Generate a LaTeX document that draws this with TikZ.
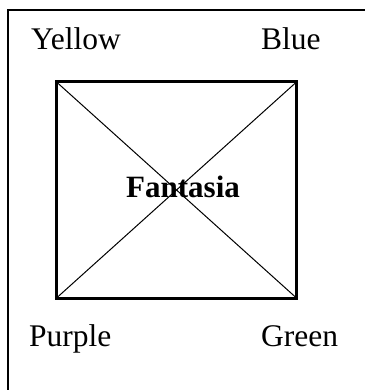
\documentclass[tikz,border=0pt]{standalone}
\usepackage{fontspec}
\setmainfont{Liberation Serif}
\begin{document}
\begin{tikzpicture}[x=1pt, y=-1pt,
    lbl/.style={font=\fontsize{31.5}{38}\selectfont, inner sep=0pt, anchor=base west}]
    \useasboundingbox (0,0) rectangle (365,390);
    % frame
    \draw[line width=1.3pt] (8,390) -- (8,10) -- (365,10);
    % square with diagonals
    \node[draw, line width=3pt, outer sep=0pt, inner sep=0pt,
          minimum width=240pt, minimum height=216pt] (box) at (176.5,190) {};
    \draw[line width=1pt] (box.north west) -- (box.south east);
    \draw[line width=1pt] (box.north east) -- (box.south west);
    \node[lbl, font=\fontsize{31}{38}\selectfont\bfseries] (title) at (126,197) {Fantasia};
    % corner labels
    \node[lbl] (yellow) at (31,50) {Yellow};
    \node[lbl] (blue) at (261,50) {Blue};
    \node[lbl] (purple) at (29,346) {Purple};
    \node[lbl] (green) at (261,346) {Green};
\end{tikzpicture}
\end{document}
